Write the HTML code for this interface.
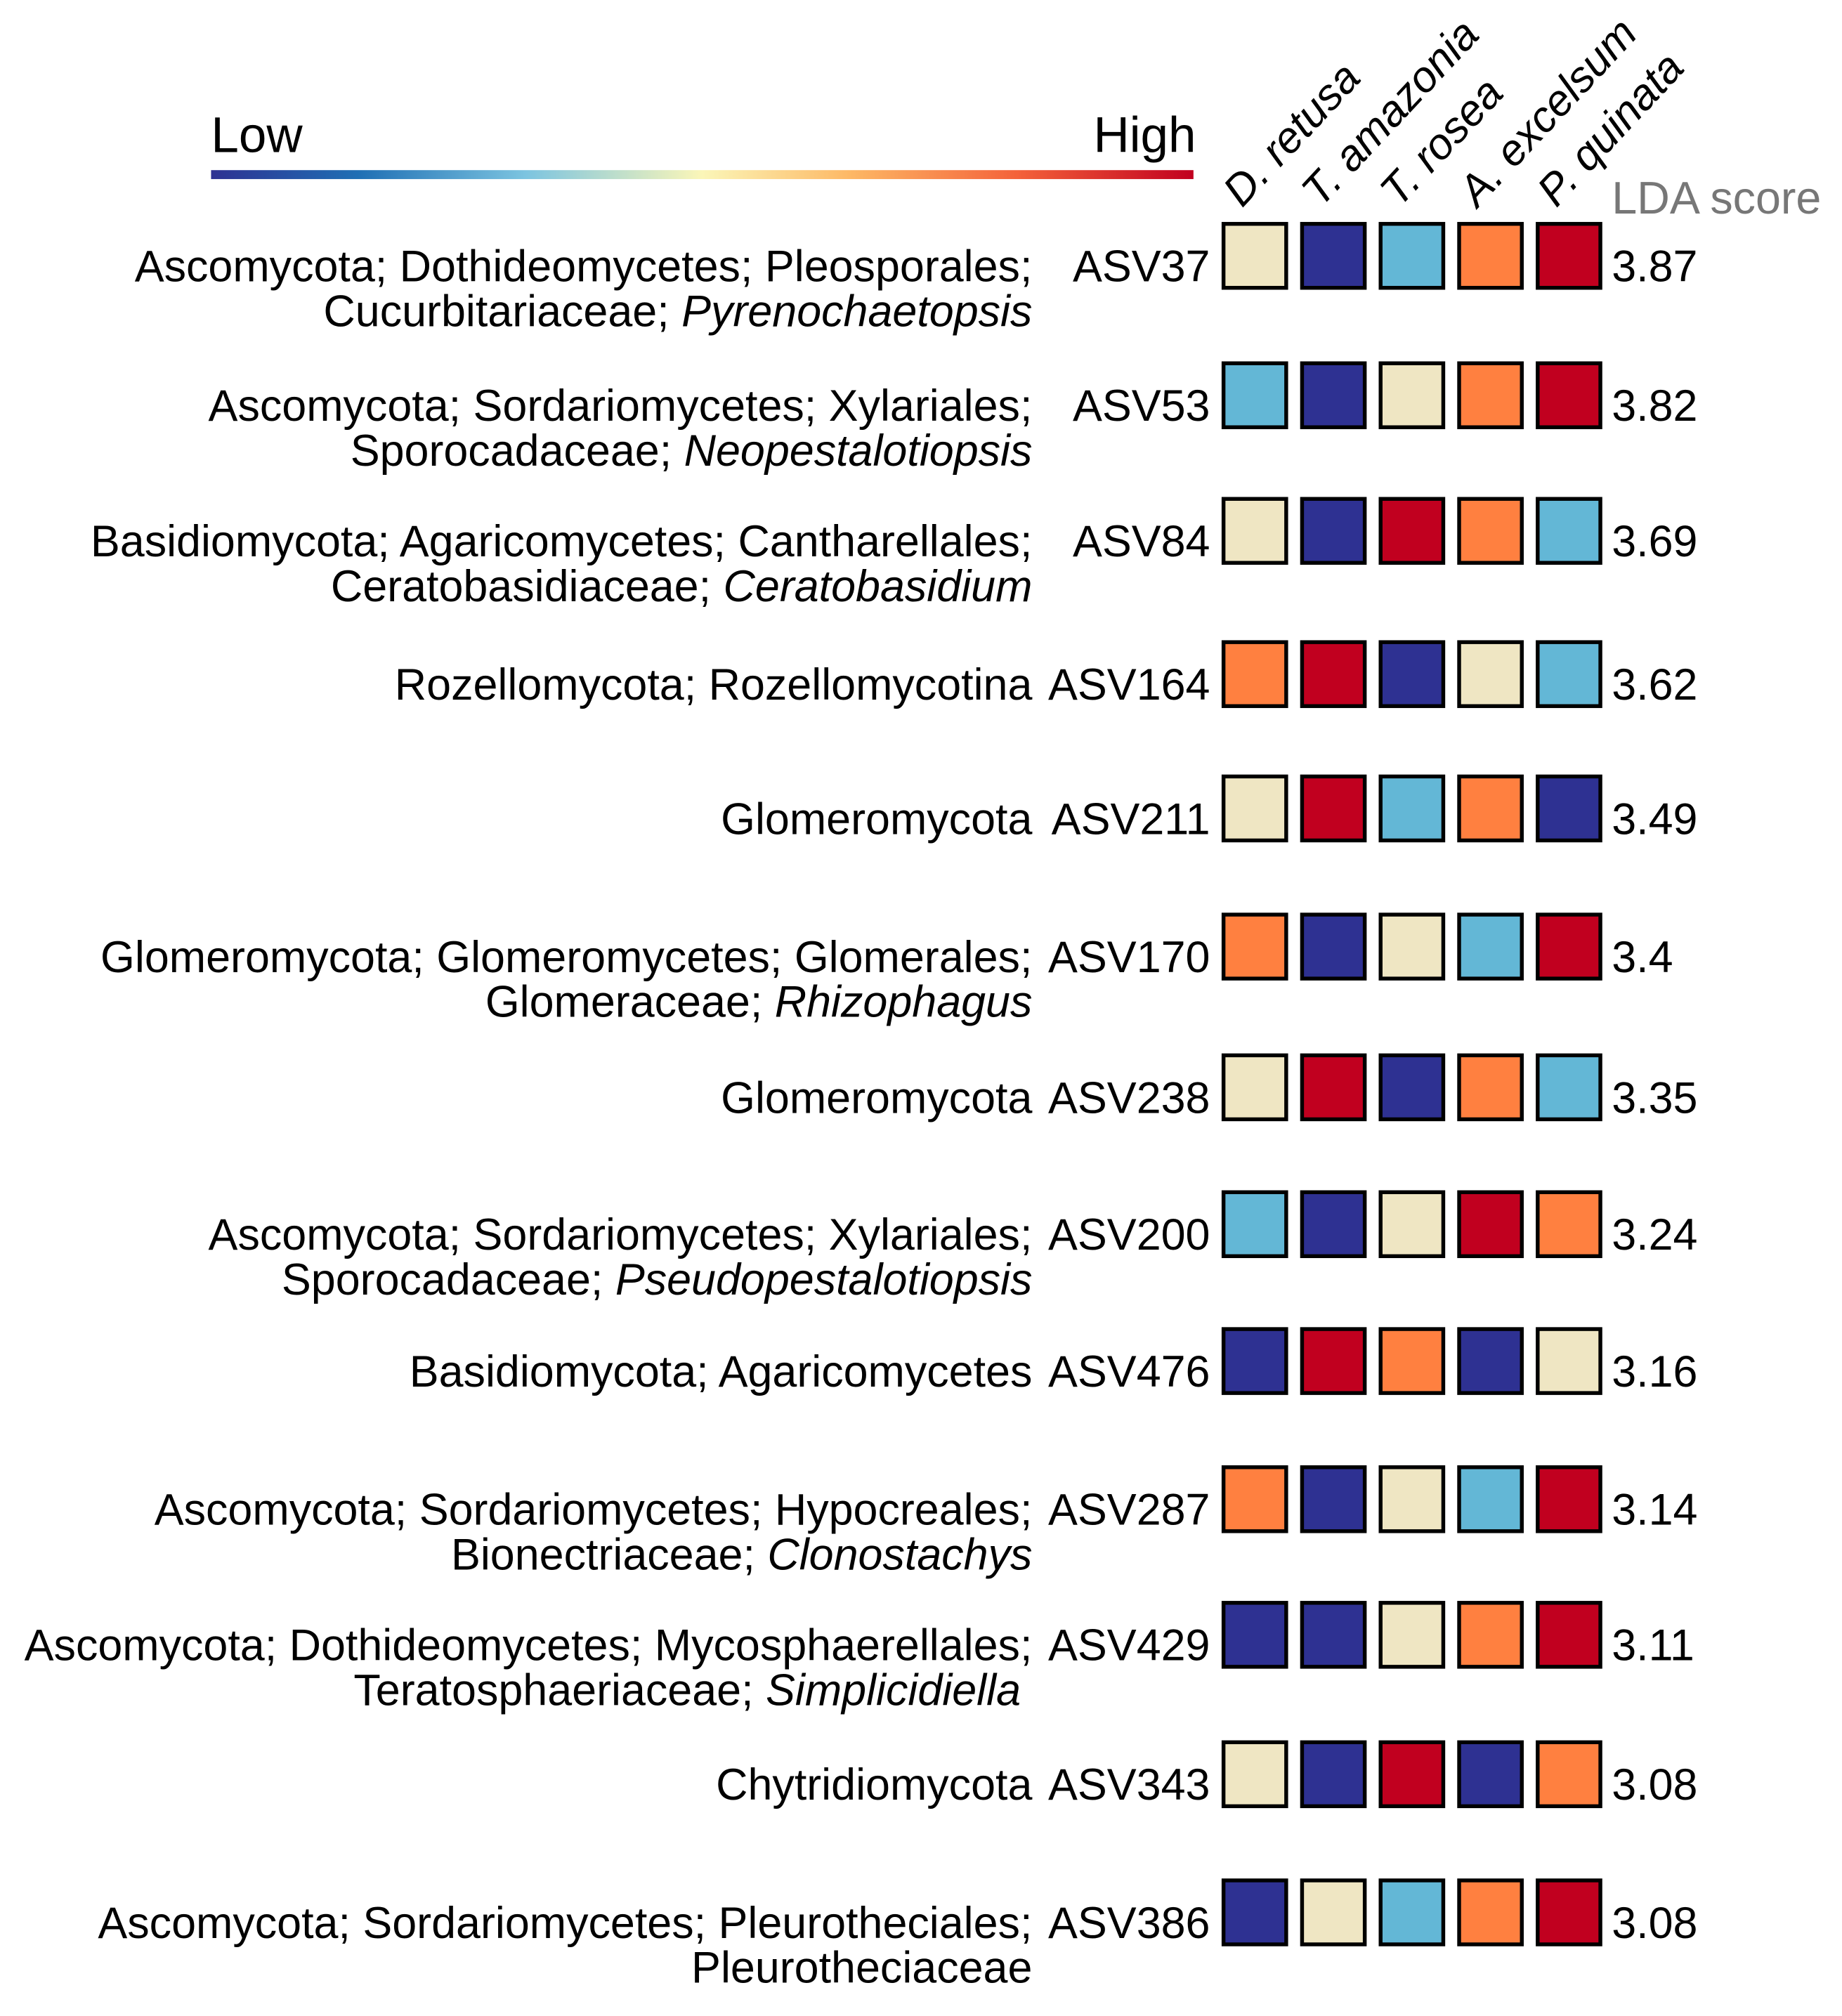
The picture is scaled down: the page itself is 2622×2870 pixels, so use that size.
<!DOCTYPE html>
<html><head><meta charset="utf-8"><style>
html,body{margin:0;padding:0;background:#fff;}
svg{display:block;}
text{font-family:"Liberation Sans",Arial,sans-serif;}
</style></head><body>
<svg id="chart" width="2622" height="2870" viewBox="0 0 1440 1576" preserveAspectRatio="none" xmlns="http://www.w3.org/2000/svg">
<defs>
<linearGradient id="grad" x1="0" x2="1" y1="0" y2="0">
<stop offset="0" stop-color="#2E3192"/>
<stop offset="0.15" stop-color="#1f6fb4"/>
<stop offset="0.32" stop-color="#7cc4e0"/>
<stop offset="0.5" stop-color="#fbf6b8"/>
<stop offset="0.65" stop-color="#fdb865"/>
<stop offset="0.82" stop-color="#f4623a"/>
<stop offset="1" stop-color="#c1001f"/>
</linearGradient>
</defs>
<g>
<text x="165" y="119" font-size="39">Low</text>
<text x="935" y="119" font-size="39" text-anchor="end">High</text>
<rect x="165" y="133" width="768" height="7" fill="url(#grad)"/>
</g>
<text x="1260" y="167" font-size="35.5" fill="#777">LDA score</text>
<g id="heads"></g>
<g id="rows"></g>
</svg>
<script>
const groups = ["D. retusa","T. amazonia","T. rosea","A. excelsum","P. quinata"];
const asvs = ["ASV37","ASV53","ASV84","ASV164","ASV211","ASV170","ASV238","ASV200","ASV476","ASV287","ASV429","ASV343","ASV386"];
const ldaScores = ["3.87","3.82","3.69","3.62","3.49","3.4","3.35","3.24","3.16","3.14","3.11","3.08","3.08"];
// abundance level 1 (low) .. 5 (high)
const levels = [
 [3,1,2,4,5],
 [2,1,3,4,5],
 [3,1,5,4,2],
 [4,5,1,3,2],
 [3,5,2,4,1],
 [4,1,3,2,5],
 [3,5,1,4,2],
 [2,1,3,5,4],
 [1,5,4,1,3],
 [4,1,3,2,5],
 [1,1,3,4,5],
 [3,1,5,1,4],
 [1,3,2,4,5]
];
const taxLine1 = [
 "Ascomycota; Dothideomycetes; Pleosporales;",
 "Ascomycota; Sordariomycetes; Xylariales;",
 "Basidiomycota; Agaricomycetes; Cantharellales;",
 "Rozellomycota; Rozellomycotina",
 "Glomeromycota",
 "Glomeromycota; Glomeromycetes; Glomerales;",
 "Glomeromycota",
 "Ascomycota; Sordariomycetes; Xylariales;",
 "Basidiomycota; Agaricomycetes",
 "Ascomycota; Sordariomycetes; Hypocreales;",
 "Ascomycota; Dothideomycetes; Mycosphaerellales;",
 "Chytridiomycota",
 "Ascomycota; Sordariomycetes; Pleurotheciales;"
];
const taxLine2 = [
 ["Cucurbitariaceae; ","Pyrenochaetopsis"],
 ["Sporocadaceae; ","Neopestalotiopsis"],
 ["Ceratobasidiaceae; ","Ceratobasidium"],
 ["",""],["",""],
 ["Glomeraceae; ","Rhizophagus"],
 ["",""],
 ["Sporocadaceae; ","Pseudopestalotiopsis"],
 ["",""],
 ["Bionectriaceae; ","Clonostachys"],
 ["Teratosphaeriaceae; ","Simplicidiella"],
 ["",""],
 ["Pleurotheciaceae",""]
];
const rowY = [208,317,423,535,640,748,858,965,1072,1180,1286,1395,1503];
const palette = {1:"#2E3192",2:"#63B7D6",3:"#EFE6C3",4:"#FF8040",5:"#C1001F"};
const NS="http://www.w3.org/2000/svg";
const colX = i => 955 + i*61.4;
const cellW = 52;
const FS = 34.5;
function mk(tag, attrs, parent){const e=document.createElementNS(NS,tag);for(const k in attrs)e.setAttribute(k,attrs[k]);parent.appendChild(e);return e;}
const heads=document.getElementById('heads');
groups.forEach((g,i)=>{
  const x=colX(i)+16, y=163;
  const t=mk('text',{x:x,y:y,'font-size':34,'font-style':'italic',transform:`rotate(-47 ${x} ${y})`},heads);
  
  
  t.textContent=g;
});
const rows=document.getElementById('rows');
asvs.forEach((a,r)=>{
  const y=rowY[r];
  const g=mk('g',{},rows);
  
  
  const t1=mk('text',{x:807,y:y+12,'font-size':FS,'text-anchor':'end'},g);
  
  
  t1.textContent=taxLine1[r];
  if(taxLine2[r][0]||taxLine2[r][1]){
    const t2=mk('text',{x:(a==="ASV429"?798:807),y:y+47,'font-size':FS,'text-anchor':'end'},g);
    
    
    const s1=mk('tspan',{},t2);s1.textContent=taxLine2[r][0];
    if(taxLine2[r][1]){const s2=mk('tspan',{'font-style':'italic'},t2);s2.textContent=taxLine2[r][1];}
  }
  const ta=mk('text',{x:946,y:y+12,'font-size':FS,'text-anchor':'end'},g);
  
  
  ta.textContent=a;
  levels[r].forEach((v,c)=>{
    const rc=mk('rect',{x:colX(c)+1.5,y:y-33,width:cellW-3,height:50,fill:palette[v],stroke:'#000','stroke-width':3},g);
    
    
  });
  const tl=mk('text',{x:1260,y:y+12,'font-size':FS},g);
  
  
  tl.textContent=ldaScores[r];
});
</script>
</body></html>
